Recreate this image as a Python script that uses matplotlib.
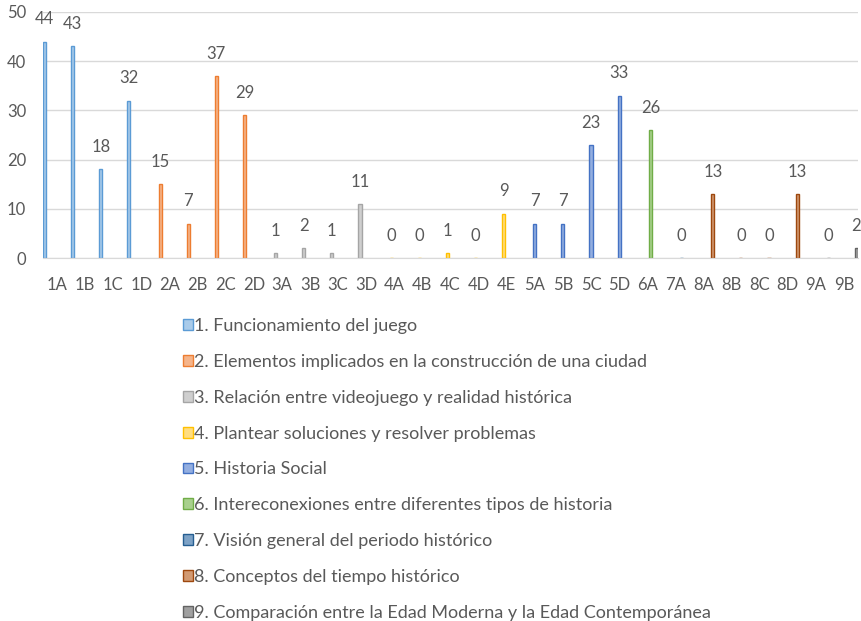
import numpy as np
import matplotlib
matplotlib.use("Agg")
from matplotlib import pyplot as plt

plt.rcParams['font.family'] = ['Lato', 'DejaVu Sans']

categories = ["1A", "1B", "1C", "1D", "2A", "2B", "2C", "2D", "3A", "3B", "3C", "3D",
              "4A", "4B", "4C", "4D", "4E", "5A", "5B", "5C", "5D", "6A", "7A",
              "8A", "8B", "8C", "8D", "9A", "9B"]
values = [44, 43, 18, 32, 15, 7, 37, 29, 1, 2, 1, 11,
          0, 0, 1, 0, 9, 7, 7, 23, 33, 26, 0,
          13, 0, 0, 13, 0, 2]

series_names = [
    "1. Funcionamiento del juego",
    "2. Elementos implicados en la construcción de una ciudad",
    "3. Relación entre videojuego y realidad histórica",
    "4. Plantear soluciones y resolver problemas",
    "5. Historia Social",
    "6. Intereconexiones entre diferentes tipos de historia",
    "7. Visión general del periodo histórico",
    "8. Conceptos del tiempo histórico",
    "9. Comparación entre la Edad Moderna y la Edad Contemporánea",
]
edge_colors = ["#5B9BD5", "#ED7D31", "#A5A5A5", "#FFC000", "#4472C4",
               "#70AD47", "#255E91", "#9E480E", "#636363"]
fill_colors = ["#A9CBEA", "#F5B48A", "#CFCFCF", "#FFDD80", "#93AEE0",
               "#A8D08D", "#7DA2C6", "#D29A72", "#A0A0A0"]

txt = "#595959"
fig = plt.figure(figsize=(8.62, 6.21), dpi=100)
ax = fig.add_axes([43 / 862, 1 - 258 / 621, 815 / 862, 246 / 621])

x = np.arange(len(categories))
n = len(series_names)
w = 1.0 / n
handles = []
for i in range(n):
    idx = [k for k, c in enumerate(categories) if c[0] == str(i + 1)]
    xs = x[idx] + (i - (n - 1) / 2) * w
    vs = [values[k] for k in idx]
    bars = ax.bar(xs, vs, width=w, color=fill_colors[i], edgecolor=edge_colors[i],
                  linewidth=1.0, label=series_names[i], zorder=3)
    handles.append(bars)
    for bx, v in zip(xs, vs):
        ax.annotate(str(v), (bx, v), xytext=(0, 16), textcoords="offset points",
                    ha="center", va="center", fontsize=12, color=txt)

ax.set_xlim(-0.5, len(categories) - 0.5)
ax.set_ylim(0, 50)
ax.set_yticks(range(0, 51, 10))
ax.set_xticks(x)
ax.set_xticklabels(categories)
ax.tick_params(axis="both", length=0, labelsize=12, labelcolor=txt)
ax.tick_params(axis="x", pad=14)
ax.tick_params(axis="y", pad=12)
ax.grid(axis="y", color="#D9D9D9", linewidth=1, zorder=0)
for s in ["top", "right", "left"]:
    ax.spines[s].set_visible(False)
ax.spines["bottom"].set_color("#D9D9D9")
ax.spines["bottom"].set_zorder(4)

leg = fig.legend(handles=handles, loc="upper left", bbox_to_anchor=(183 / 862, 1 - 318 / 621),
                 frameon=False, fontsize=13, handlelength=0.55, handleheight=0.55,
                 handletextpad=0.08, labelspacing=1.1, borderaxespad=0, borderpad=0)
for t in leg.get_texts():
    t.set_color(txt)

fig.savefig("out.png", dpi=100)
